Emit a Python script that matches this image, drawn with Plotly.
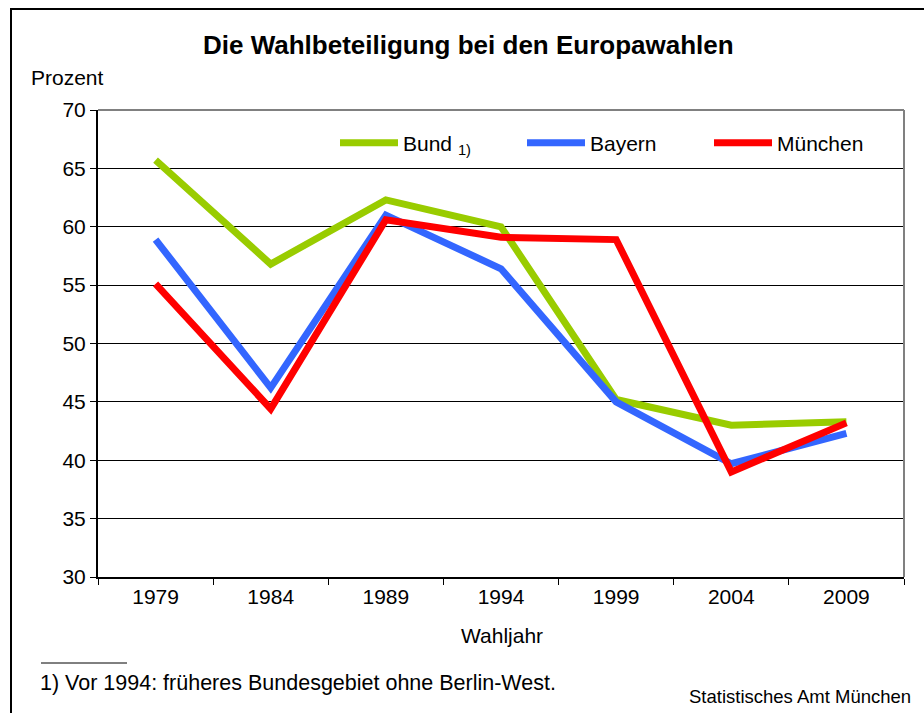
import plotly.graph_objects as go

years = ["1979", "1984", "1989", "1994", "1999", "2004", "2009"]
bund = [65.7, 56.8, 62.3, 60.0, 45.2, 43.0, 43.3]
bayern = [58.9, 46.2, 61.0, 56.4, 45.0, 39.7, 42.3]
muenchen = [55.1, 44.4, 60.6, 59.1, 58.9, 39.0, 43.2]
y_ticks = [30, 35, 40, 45, 50, 55, 60, 65, 70]

FONT = "Liberation Sans, Arial, sans-serif"

fig = go.Figure()
series = [
    ("Bund <sub>1)</sub>", bund, "#99CC00"),
    ("Bayern", bayern, "#3366FF"),
    ("München", muenchen, "#FF0000"),
]
for name, vals, col in series:
    fig.add_trace(go.Scatter(x=years, y=vals, name=name, mode="lines",
                             line=dict(color=col, width=7)))

W, H = 924, 713
L, R, T, B = 98, 20, 110, 136
pw = W - L - R
ph = H - T - B

def px(x):
    return (x - L) / pw

def py(y):
    return (H - B - y) / ph

fig.update_layout(
    width=W, height=H,
    margin=dict(l=L, r=R, t=T, b=B, pad=0),
    paper_bgcolor="white", plot_bgcolor="white",
    font=dict(family=FONT, size=21, color="black"),
    showlegend=True,
    legend=dict(orientation="h", x=px(335), y=py(143), xanchor="left", yanchor="middle",
                bgcolor="rgba(0,0,0,0)", font=dict(size=21, family=FONT),
                itemwidth=58, entrywidth=114, entrywidthmode="pixels",
                tracegroupgap=0),
    xaxis=dict(type="category", showgrid=False, ticks="outside", tickson="boundaries",
               ticklen=6, tickcolor="black", showline=True, linecolor="black",
               linewidth=2, tickfont=dict(size=21), range=[-0.5, 6.5], zeroline=False),
    yaxis=dict(range=[30, 70], tickvals=y_ticks, showgrid=True, gridcolor="#000000",
               gridwidth=1, ticks="outside", ticklen=6, tickcolor="black",
               showline=True, linecolor="black", linewidth=2, zeroline=False,
               tickfont=dict(size=21)),
)

# plot area top/right border (gray)
fig.add_shape(type="line", xref="paper", yref="paper", x0=0, x1=1, y0=1, y1=1,
              line=dict(color="#808080", width=2))
fig.add_shape(type="line", xref="paper", yref="paper", x0=1, x1=1, y0=0, y1=1,
              line=dict(color="#808080", width=2))
# outer frame
fig.add_shape(type="rect", xref="paper", yref="paper",
              x0=px(11), x1=px(935), y0=py(725), y1=py(9),
              line=dict(color="black", width=2), fillcolor="rgba(0,0,0,0)", layer="below")
# footnote rule
fig.add_shape(type="line", xref="paper", yref="paper", x0=px(41), x1=px(127),
              y0=py(663), y1=py(663), line=dict(color="black", width=1))

annos = [
    dict(text="<b>Die Wahlbeteiligung bei den Europawahlen</b>", x=px(468), y=py(45),
         xanchor="center", yanchor="middle", font=dict(size=26)),
    dict(text="Prozent", x=px(29), y=py(78), xanchor="left", yanchor="middle",
         font=dict(size=21)),
    dict(text="Wahljahr", x=px(502), y=py(635), xanchor="center", yanchor="middle",
         font=dict(size=21)),
    dict(text="1) Vor 1994: früheres Bundesgebiet ohne Berlin-West.", x=px(38), y=py(683),
         xanchor="left", yanchor="middle", font=dict(size=21.5)),
    dict(text="Statistisches Amt München", x=px(913), y=py(696), xanchor="right",
         yanchor="middle", font=dict(size=18.5)),
]
for a in annos:
    fig.add_annotation(xref="paper", yref="paper", showarrow=False, **a)

fig.write_html("out.html", config={"displayModeBar": False},
               post_script="document.body.style.margin='0px';document.body.style.overflow='hidden';")
